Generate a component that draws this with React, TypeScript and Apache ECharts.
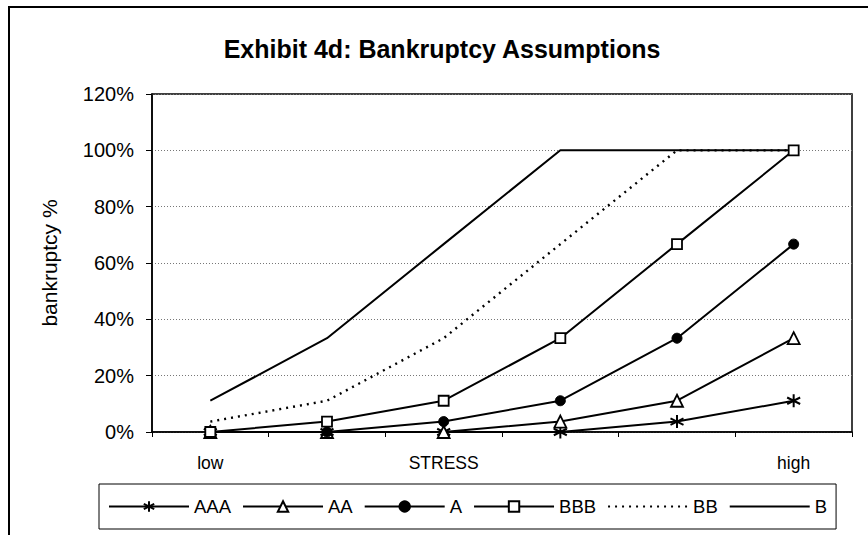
import React, { useEffect, useRef } from "react";
import * as echarts from "echarts";

const categories = ["low", "", "STRESS", "", "", "high"];
const seriesNames = ["AAA", "AA", "A", "BBB", "BB", "B"];
const AAA = [0, 0, 0, 0, 3.7, 11.1];
const AA = [0, 0, 0, 3.7, 11.1, 33.3];
const A = [0, 0, 3.7, 11.1, 33.3, 66.7];
const BBB = [0, 3.7, 11.1, 33.3, 66.7, 100];
const BB = [3.7, 11.1, 33.3, 66.7, 100, 100];
const B = [11.1, 33.3, 66.7, 100, 100, 100];
const yTicks = { min: 0, max: 120, interval: 20 };

const FONT = "'Liberation Sans', Arial, sans-serif";
const STAR = "path://M5,0 L5,10 M0.67,2.5 L9.33,7.5 M0.67,7.5 L9.33,2.5";

export default function App() {
  const ref = useRef<HTMLDivElement>(null);
  useEffect(() => {
    if (!ref.current) return;
    const chart = echarts.init(ref.current, undefined, { renderer: "svg" });
    const base = (name: string, data: number[]) => ({
      name,
      type: "line",
      data,
      lineStyle: { color: "#000", width: 2 },
      emphasis: { disabled: true },
    });
    chart.setOption({
      animation: false,
      backgroundColor: "#fff",
      textStyle: { fontFamily: FONT, color: "#000" },
      title: {
        text: "Exhibit 4d: Bankruptcy Assumptions",
        left: 437,
        textAlign: "center",
        top: 31,
        textStyle: { fontFamily: FONT, fontSize: 25, fontWeight: "bold", color: "#000" },
      },
      grid: {
        left: 152,
        top: 94,
        right: 16,
        bottom: 103,
        show: true,
        borderColor: "#000",
        borderWidth: 1.5,
        backgroundColor: "transparent",
      },
      legend: {
        left: 99,
        top: 484,
        padding: [13, 9, 13, 9],
        borderColor: "#000",
        borderWidth: 1,
        itemGap: 11,
        itemWidth: 80,
        itemHeight: 13,
        data: seriesNames,
        textStyle: { fontFamily: FONT, fontSize: 18.5, color: "#000" },
      },
      xAxis: {
        type: "category",
        data: categories,
        boundaryGap: true,
        axisLine: { lineStyle: { color: "#000", width: 1.5 } },
        axisTick: { show: true, length: 5, interval: 0, lineStyle: { color: "#000" } },
        axisLabel: { interval: 0, margin: 22, fontSize: 17.5, color: "#000", fontFamily: FONT },
        splitLine: { show: false },
      },
      yAxis: {
        type: "value",
        min: yTicks.min,
        max: yTicks.max,
        interval: yTicks.interval,
        name: "bankruptcy %",
        nameLocation: "middle",
        nameGap: 92,
        nameTextStyle: { fontSize: 21, color: "#000", fontFamily: FONT },
        axisLine: { show: true, lineStyle: { color: "#000", width: 1.5 } },
        axisTick: { show: true, length: 6, lineStyle: { color: "#000" } },
        axisLabel: { formatter: "{value}%", fontSize: 20, margin: 18, color: "#000", fontFamily: FONT },
        splitLine: { show: true, lineStyle: { color: "#777", type: [1, 2], width: 1 } },
      },
      graphic: [
        {
          type: "polyline",
          shape: { points: [[9, 535], [9, 7], [868, 7]] },
          style: { stroke: "#000", lineWidth: 2, fill: "none" },
          z: 100,
        },
      ],
      series: [
        {
          ...base("AAA", AAA),
          symbol: STAR,
          symbolSize: 13,
          itemStyle: { color: "#000", borderColor: "#000", borderWidth: 2 },
        },
        {
          ...base("AA", AA),
          symbol: "triangle",
          symbolSize: 12,
          itemStyle: { color: "#fff", borderColor: "#000", borderWidth: 1.8 },
        },
        {
          ...base("A", A),
          symbol: "circle",
          symbolSize: 10,
          itemStyle: { color: "#000", borderColor: "#000", borderWidth: 1 },
        },
        {
          ...base("BBB", BBB),
          symbol: "rect",
          symbolSize: 10,
          itemStyle: { color: "#fff", borderColor: "#000", borderWidth: 1.8 },
        },
        {
          ...base("BB", BB),
          symbol: "circle",
          symbolSize: 0,
          showSymbol: false,
          lineStyle: { color: "#000", width: 2.4, type: [2, 5] },
          itemStyle: { color: "#000", opacity: 0 },
        },
        {
          ...base("B", B),
          symbol: "circle",
          symbolSize: 0,
          showSymbol: false,
          itemStyle: { color: "#000", opacity: 0 },
        },
      ],
    });
    return () => chart.dispose();
  }, []);
  return (
    <div
      ref={ref}
      style={{ position: "fixed", left: 0, top: 0, width: 868, height: 535 }}
    />
  );
}
